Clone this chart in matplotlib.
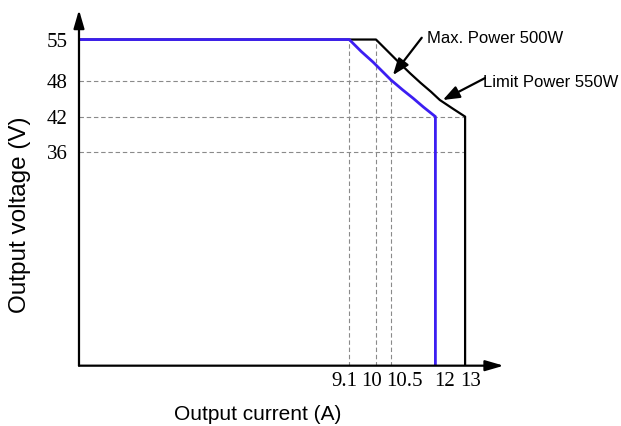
import matplotlib
matplotlib.use("Agg")
import matplotlib.pyplot as plt
from matplotlib.transforms import ScaledTranslation

# Axis ticks
voltage_ticks = [36, 42, 48, 55]
current_ticks = [9.1, 10, 10.5, 12, 13]
current_tick_labels = ["9.1", "10", "10.5", "12", "13"]

# Max. power 500W output curve (blue)
max_current = [0, 9.1, 9.5, 9.9, 10.2, 10.5, 10.9, 11.25, 11.6, 12, 12]
max_voltage = [55, 55, 53.0, 51.2, 49.7, 48.2, 46.5, 45.1, 43.6, 42, 0]

# Limit power 550W curve (black)
limit_current = [0, 10, 10.4, 10.8, 11.15, 11.5, 11.85, 12.15, 12.6, 13, 13]
limit_voltage = [55, 55, 53.0, 51.0, 49.3, 47.7, 46.2, 44.8, 43.3, 42, 0]

SANS = "Liberation Sans"
SERIF = "Liberation Serif"
GRID = dict(color="#8a8a8a", lw=0.8, ls=(0, (4, 2.5)), zorder=1)

fig = plt.figure(figsize=(6.21, 4.26), dpi=100)
ax = fig.add_axes([0.1272, 0.1416, 0.7174, 0.8352])
ax.set_xlim(0, 15)
ax.set_ylim(0, 60)
for s in ax.spines.values():
    s.set_visible(False)

# dashed guide lines
ax.plot([0, 10.5], [48, 48], **GRID)
ax.plot([0, 13], [42, 42], **GRID)
ax.plot([0, 13], [36, 36], **GRID)
ax.plot([9.1, 9.1], [0, 55], **GRID)
ax.plot([10, 10], [0, 55], **GRID)
ax.plot([10.5, 10.5], [0, 48], **GRID)

# curves
ax.plot(limit_current, limit_voltage, color="black", lw=1.6, zorder=3,
        solid_joinstyle="round")
ax.plot(max_current, max_voltage, color="#3c1ef2", lw=2.0, zorder=4,
        solid_joinstyle="round")

# axes with arrow heads
axis_arrow = dict(arrowstyle="-|>,head_length=1.1,head_width=0.32",
                  lw=1.6, color="black", shrinkA=0, shrinkB=0,
                  mutation_scale=10)
ax.annotate("", xy=(0, 60), xytext=(0, 0), arrowprops=axis_arrow, zorder=5)
ax.annotate("", xy=(14.3, 0), xytext=(0, 0), arrowprops=axis_arrow, zorder=5)

# ticks
ax.set_yticks(voltage_ticks)
ax.set_yticklabels([str(v) for v in voltage_ticks], fontfamily=SERIF,
                   fontsize=15)
ax.set_xticks(current_ticks)
ax.set_xticklabels(current_tick_labels, fontfamily=SERIF, fontsize=15)
ax.tick_params(axis="y", length=0, pad=8)
ax.tick_params(axis="x", length=0, pad=4.5)

# labels on the x axis are nudged sideways so they don't collide
nudges = [-5, -4.5, 13.5, 9, 6]
for lab, dx in zip(ax.get_xticklabels(), nudges):
    lab.set_transform(lab.get_transform() +
                      ScaledTranslation(dx / 100, 0, fig.dpi_scale_trans))

ax.set_xlabel("Output current (A)", fontfamily=SANS, fontsize=15)
ax.xaxis.label.set_va("center")
ax.xaxis.set_label_coords(0.4018, -0.1386)
ax.set_ylabel("Output voltage (V)", fontfamily=SANS, fontsize=17.5)
ax.yaxis.label.set_va("center")
ax.yaxis.set_label_coords(-0.1324, 0.425)

# power annotations
note_arrow = dict(arrowstyle="-|>,head_length=1.0,head_width=0.38",
                  lw=1.6, color="black", shrinkA=0, shrinkB=0,
                  mutation_scale=10)
ax.annotate("", xy=(10.57, 49.0), xytext=(11.54, 55.3), arrowprops=note_arrow)
ax.annotate("", xy=(12.25, 44.8), xytext=(13.67, 48.5), arrowprops=note_arrow)
ax.text(11.72, 55.2, "Max. Power 500W", fontfamily=SANS, fontsize=12,
        va="center", ha="left")
ax.text(13.6, 47.8, "Limit Power 550W", fontfamily=SANS, fontsize=12,
        va="center", ha="left", clip_on=False)

fig.savefig("out.png", dpi=100)
